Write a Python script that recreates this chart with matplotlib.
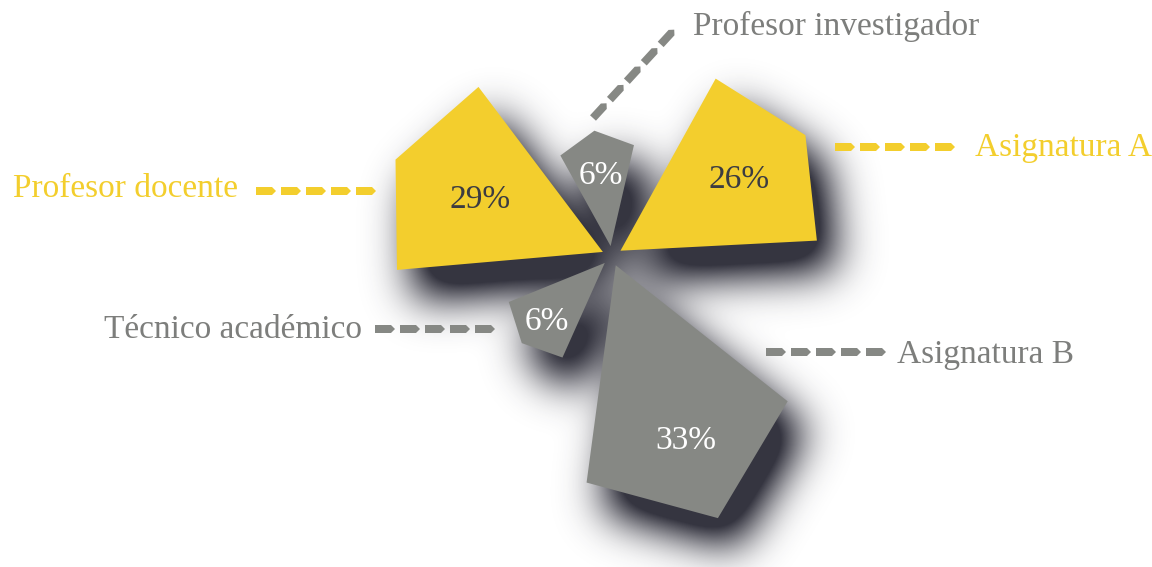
import numpy as np
import matplotlib
matplotlib.use('Agg')
import matplotlib.pyplot as plt
from matplotlib.patches import Polygon
from matplotlib.path import Path

# --- data ---
categories = ['Asignatura A', 'Profesor investigador', 'Profesor docente',
              'Técnico académico', 'Asignatura B']
values = [26, 6, 29, 6, 33]
value_labels = ['26%', '6%', '29%', '6%', '33%']

# --- layout / style ---
W, H = 1152, 567
center = (612, 256)
mid_angle = [32, 98, 156, 224, 292]          # deg, ccw from east
half_width = [27.7, 19.2, 27.7, 20.0, 28.4]
tip_factor = [1.11, 1.12, 1.10, 1.11, 1.24]
label_frac = [0.73, 0.74, 0.67, 0.80, 0.86]
apex_gap = 10

YELLOW = '#F3CE2D'
GRAY = '#868884'
GRAY_TXT = '#7d7e7c'
DARK_TXT = '#3c3c41'
slice_color = [YELLOW, GRAY, YELLOW, GRAY, GRAY]
pct_color = [DARK_TXT, 'white', DARK_TXT, 'white', 'white']
cat_color = [YELLOW, GRAY_TXT, YELLOW, GRAY_TXT, GRAY_TXT]

# label text anchor (x, baseline, alignment), dash start, dash direction
text_pos = [(975, 156, 'left'), (693, 35, 'left'), (238, 197, 'right'),
            (362, 338, 'right'), (897, 363, 'left')]
dash_start = [(835, 147), (593, 118), (256, 191), (375, 329), (766, 352)]
dash_angle = [0, 47.4, 0, 0, 0]

FONT = 'Liberation Serif'


def radius(v):
    return 27.5 + 34.9 * np.sqrt(v)


def pt(r, ang, origin=center):
    a = np.radians(ang)
    return (origin[0] + r * np.cos(a), origin[1] - r * np.sin(a))


def slice_poly(i):
    r = radius(values[i])
    m = mid_angle[i]
    hw = half_width[i]
    apex = pt(apex_gap, m)
    return [apex, pt(r, m - hw), pt(r * tip_factor[i], m), pt(r, m + hw)]


def dash_poly(x0, y0, ang, L=20, h=8, p=4):
    a = np.radians(ang)
    u = np.array([np.cos(a), -np.sin(a)])
    n = np.array([np.sin(a), np.cos(a)])
    local = [(0, -h / 2), (L - p, -h / 2), (L, 0), (L - p, h / 2), (0, h / 2)]
    o = np.array([x0, y0])
    return [o + s * u + t * n for s, t in local]


def blur(img, sigma):
    r = int(3 * sigma)
    x = np.arange(-r, r + 1)
    k = np.exp(-x ** 2 / (2 * sigma ** 2))
    k /= k.sum()
    img = np.apply_along_axis(lambda m: np.convolve(m, k, mode='same'), 0, img)
    img = np.apply_along_axis(lambda m: np.convolve(m, k, mode='same'), 1, img)
    return img


fig = plt.figure(figsize=(W / 100, H / 100), dpi=100)
ax = fig.add_axes([0, 0, 1, 1])
ax.set_xlim(0, W)
ax.set_ylim(H, 0)
ax.axis('off')

polys = [slice_poly(i) for i in range(len(values))]

# soft drop shadow
sh_dx, sh_dy = 18, 28
xx, yy = np.meshgrid(np.arange(W) + 0.5, np.arange(H) + 0.5)
grid = np.column_stack([xx.ravel() - sh_dx, yy.ravel() - sh_dy])
mask = np.zeros(W * H)
for p in polys:
    mask = np.maximum(mask, Path(p).contains_points(grid))
mask = blur(mask.reshape(H, W).astype(float), 22)
rgba = np.zeros((H, W, 4))
rgba[..., 0] = 42 / 255
rgba[..., 1] = 42 / 255
rgba[..., 2] = 54 / 255
rgba[..., 3] = np.clip(mask * 1.5, 0, 1) * 0.95
ax.imshow(rgba, extent=(0, W, H, 0), origin='upper', zorder=1, interpolation='bilinear')

for i, p in enumerate(polys):
    ax.add_patch(Polygon(p, closed=True, facecolor=slice_color[i], edgecolor='none', zorder=2))
    lx, ly = pt(radius(values[i]) * label_frac[i], mid_angle[i])
    ax.text(lx, ly + 11, value_labels[i], color=pct_color[i], fontsize=24,
            family=FONT, ha='center', va='baseline', zorder=3)

# category labels with dashed arrows
for i, name in enumerate(categories):
    tx, ty, align = text_pos[i]
    ax.text(tx, ty, name, color=cat_color[i], fontsize=24, family=FONT,
            ha=align, va='baseline', zorder=3)
    a = np.radians(dash_angle[i])
    for k in range(5):
        x0 = dash_start[i][0] + 25 * k * np.cos(a)
        y0 = dash_start[i][1] - 25 * k * np.sin(a)
        ax.add_patch(Polygon(dash_poly(x0, y0, dash_angle[i]), closed=True,
                             facecolor=slice_color[i], edgecolor='none', zorder=3))

fig.savefig('out.png', dpi=100, facecolor='white')
